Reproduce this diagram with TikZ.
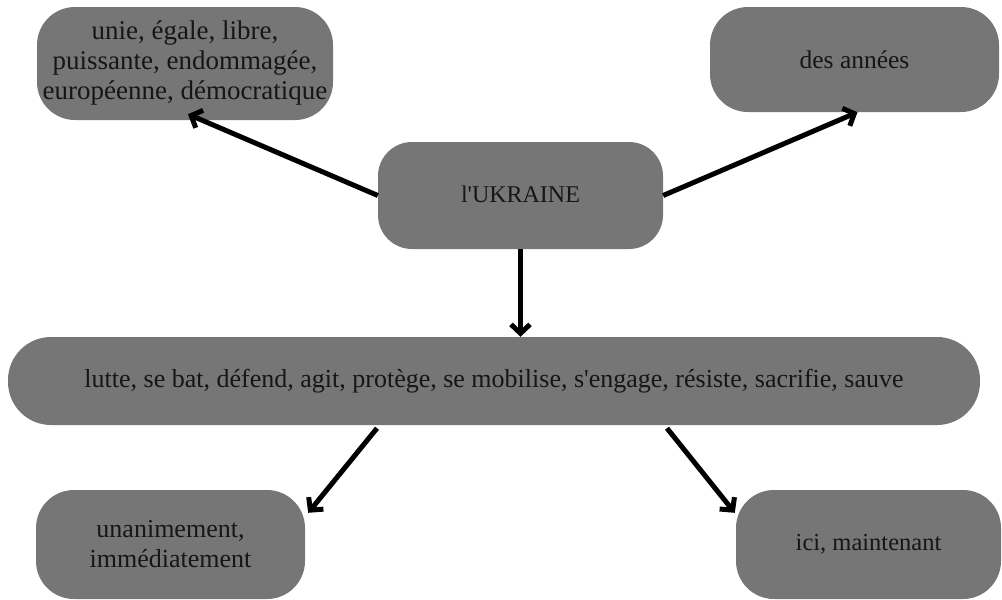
\documentclass[tikz,border=0pt]{standalone}
\usepackage{fontspec}
\setmainfont{Liberation Serif}
\usetikzlibrary{arrows.meta,calc}
\definecolor{boxgray}{RGB}{118,118,118}
\definecolor{inkdark}{RGB}{22,22,22}
\newcommand{\boxfont}[1]{\fontsize{#1}{30}\selectfont}
\begin{document}
\begin{tikzpicture}[x=1pt,y=-1pt,
  wordbox/.style={fill=boxgray,draw=none,rounded corners=#1,inner sep=0pt,
    align=center,text=inkdark},
  wordbox/.default=38pt,
  link/.style={line width=5pt,draw=black,
    -{Straight Barb[length=9pt,width=19pt,line width=5pt]}}]
\useasboundingbox (0,0) rectangle (1002,600);

% the six word groups
\node[wordbox, minimum width=296pt, minimum height=113pt, font=\boxfont{27}] (tl) at (185,63.5)
  {\raisebox{5pt}{\begin{tabular}{@{}c@{}}unie, égale, libre,\\puissante, endommagée,\\européenne, démocratique\end{tabular}}};
\node[wordbox, minimum width=289pt, minimum height=105pt, font=\boxfont{25.5}] (tr) at (854.5,59.5)
  {des années};
\node[wordbox=34pt, minimum width=285pt, minimum height=107pt, font=\boxfont{24}] (ctr) at (520.5,195.5)
  {\raisebox{3pt}{l\textquotesingle UKRAINE}};
\node[wordbox=43pt, minimum width=972pt, minimum height=88pt, font=\boxfont{26}] (big) at (494,381)
  {lutte, se bat, défend, agit, protège, se mobilise, s\textquotesingle engage, résiste, sacrifie, sauve};
\node[wordbox, minimum width=269pt, minimum height=109pt, font=\boxfont{26}] (bl) at (170.5,544.5)
  {unanimement,\\immédiatement};
\node[wordbox, minimum width=265pt, minimum height=109pt, font=\boxfont{24.5}] (br) at (868.5,544.5)
  {ici, maintenant};

% arrow end points
\coordinate (tlend) at ($(tl.south)+(3,-6)$);
\coordinate (trend) at ($(tr.south)+(3,0)$);
\coordinate (bigtop) at (ctr.south |- big.north);
\coordinate (bigl) at ($(big.south)+(-117,3)$);
\coordinate (bigr) at ($(big.south)+(173,3)$);
\coordinate (blend) at ($(bl.north east)+(3,23)$);
\coordinate (brend) at ($(br.north west)+(-1,23)$);

% connectors
\draw[link] (ctr.west) -- (tlend);
\draw[link] (ctr.east) -- (trend);
\draw[link] (ctr.south) -- (bigtop);
\draw[link] (bigl) -- (blend);
\draw[link] (bigr) -- (brend);
\end{tikzpicture}
\end{document}
